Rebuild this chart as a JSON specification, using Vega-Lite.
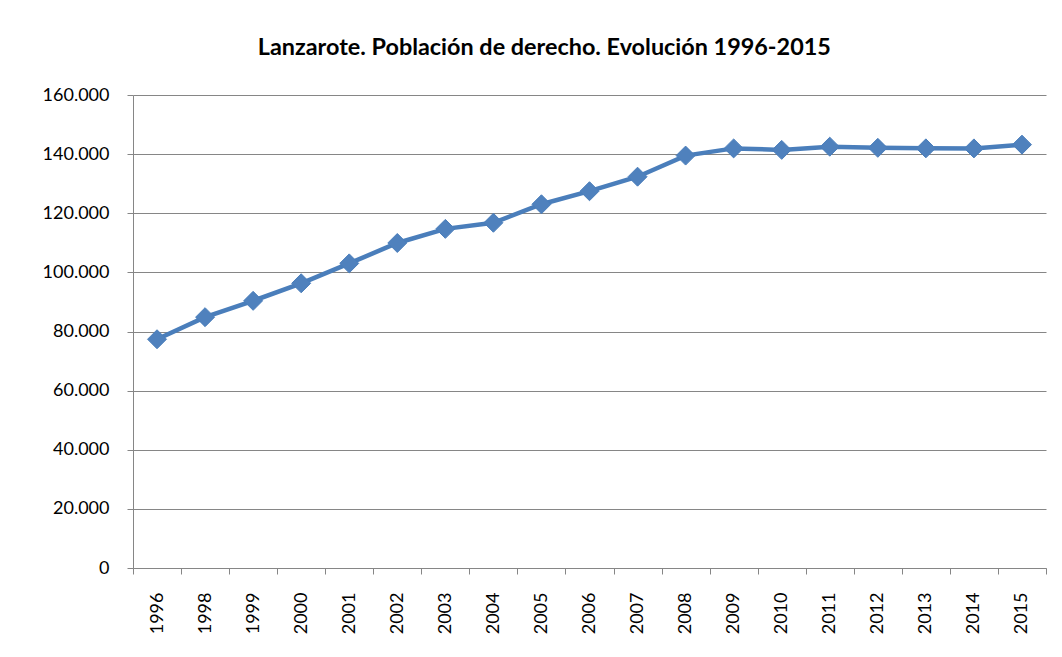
{
  "$schema": "https://vega.github.io/schema/vega-lite/v6.json",
  "width": 913,
  "height": 473,
  "autosize": {"type": "none"},
  "padding": {"left": 133, "top": 95, "right": 16, "bottom": 89},
  "background": "white",
  "title": {
    "text": "Lanzarote. Población de derecho. Evolución 1996-2015",
    "font": "Lato",
    "fontSize": 23.4,
    "fontWeight": "bold",
    "color": "#000000",
    "anchor": "middle",
    "frame": "bounds",
    "baseline": "alphabetic",
    "offset": 8
  },
  "data": {
    "values": [
      {"year": "1996", "pop": 77379},
      {"year": "1998", "pop": 84849},
      {"year": "1999", "pop": 90375},
      {"year": "2000", "pop": 96310},
      {"year": "2001", "pop": 103044},
      {"year": "2002", "pop": 109942},
      {"year": "2003", "pop": 114715},
      {"year": "2004", "pop": 116782},
      {"year": "2005", "pop": 123039},
      {"year": "2006", "pop": 127457},
      {"year": "2007", "pop": 132366},
      {"year": "2008", "pop": 139506},
      {"year": "2009", "pop": 141938},
      {"year": "2010", "pop": 141437},
      {"year": "2011", "pop": 142517},
      {"year": "2012", "pop": 142132},
      {"year": "2013", "pop": 141953},
      {"year": "2014", "pop": 141940},
      {"year": "2015", "pop": 143209}
    ]
  },
  "encoding": {
    "x": {
      "field": "year",
      "type": "ordinal",
      "sort": null,
      "scale": {"type": "band", "paddingInner": 0, "paddingOuter": 0},
      "axis": {
        "title": null,
        "labelAngle": -90,
        "labelFont": "Lato",
        "labelFontSize": 18,
        "labelColor": "#000000",
        "labelPadding": 18,
        "tickBand": "extent",
        "tickSize": 6,
        "tickColor": "#868686",
        "domainColor": "#868686",
        "domainWidth": 1,
        "grid": false
      }
    },
    "y": {
      "field": "pop",
      "type": "quantitative",
      "scale": {"domain": [0, 160000], "nice": false},
      "axis": {
        "title": null,
        "values": [0, 20000, 40000, 60000, 80000, 100000, 120000, 140000, 160000],
        "labelExpr": "replace(format(datum.value, ','), ',', '.')",
        "labelFont": "Lato",
        "labelFontSize": 18,
        "labelColor": "#000000",
        "labelPadding": 18,
        "tickSize": 6,
        "tickColor": "#868686",
        "domainColor": "#868686",
        "grid": true,
        "gridColor": "#868686",
        "gridWidth": 1
      }
    }
  },
  "layer": [
    {
      "mark": {"type": "line", "color": "#4A7EBB", "strokeWidth": 4.5}
    },
    {
      "mark": {
        "type": "point",
        "shape": "diamond",
        "filled": true,
        "size": 360,
        "color": "#4F81BD",
        "opacity": 1,
        "stroke": "#4A7EBB",
        "strokeWidth": 1
      }
    }
  ],
  "config": {
    "view": {"stroke": null}
  }
}
